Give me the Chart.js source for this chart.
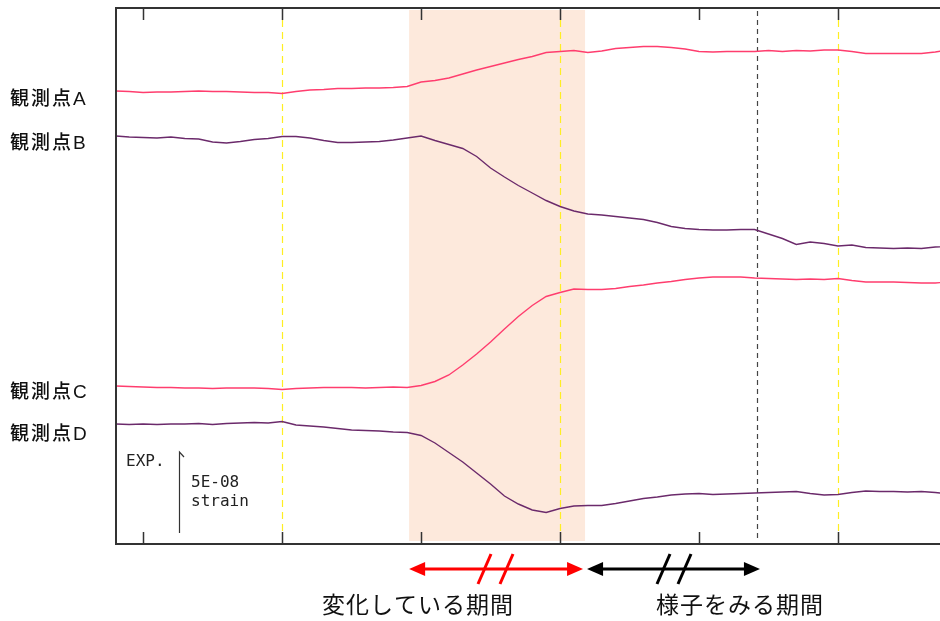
<!DOCTYPE html>
<html>
<head>
<meta charset="utf-8">
<script src="https://cdn.jsdelivr.net/npm/chart.js@4"></script>
<style>
  html, body { margin: 0; padding: 0; background: #fff; }
  #wrap { width: 940px; height: 621px; }
</style>
</head>
<body>
<div id="wrap"><canvas id="strainChart" width="940" height="621"></canvas></div>
<script>
// time axis, one unit per tick interval
const times = [-0.2, -0.1, 0, 0.1, 0.2, 0.3, 0.4, 0.5, 0.6, 0.7, 0.8, 0.9,
  1.0, 1.1, 1.2, 1.3, 1.4, 1.5, 1.6, 1.7, 1.8, 1.9,
  2.0, 2.1, 2.2, 2.3, 2.4, 2.5, 2.6, 2.7, 2.8, 2.9,
  3.0, 3.1, 3.2, 3.3, 3.4, 3.5, 3.6, 3.7, 3.8, 3.9,
  4.0, 4.1, 4.2, 4.3, 4.4, 4.5, 4.6, 4.7, 4.8, 4.9,
  5.0, 5.1, 5.2, 5.3, 5.4, 5.5, 5.6, 5.7, 5.8];

// strain traces (display offset units, up = expansion)
const pointA = [453, 452.5, 451.5, 452, 452, 452.5, 453, 452.5, 452.5, 452, 451.5, 451.5,
  450.5, 452.5, 454, 454.5, 455.5, 455.5, 456, 456, 456.5, 457.5,
  462, 463.5, 466, 470, 474, 477.5, 481, 484.5, 487.5, 491.5,
  492.5, 493.5, 491.5, 493, 495.5, 496.5, 497.5, 497.5, 496.5, 495,
  492.5, 492, 492.5, 492.5, 492.5, 493.5, 492.5, 493.5, 493, 494,
  494, 492.5, 490.5, 490.5, 490.5, 490.5, 490.5, 492, 494];
const pointB = [408, 407, 406.5, 406, 407, 405.5, 405, 402, 401, 402.5, 404.5, 405.5,
  407.5, 407.5, 406, 403.5, 401.5, 401.5, 402, 402.5, 404, 406,
  408, 403.5, 399.5, 395.5, 387.5, 376, 367, 358.5, 351, 343.5,
  337.5, 333, 330, 329, 327.5, 326, 324.5, 321.5, 317.5, 315.5,
  314.5, 314, 314, 314.5, 314.5, 310, 305.5, 299.5, 302, 300.5,
  298, 299, 296.5, 296, 295.5, 296, 295.5, 297, 297.5];
const pointC = [158, 157.5, 157, 156.5, 156.5, 156, 156, 155.5, 156, 156, 156, 155.5,
  154.5, 155.5, 156, 156.5, 156.5, 156.5, 156, 156.5, 157, 156.5,
  158.5, 162.5, 169, 179, 190, 202, 215, 227.5, 238.5, 247.5,
  251.5, 255, 254.5, 254.5, 255.5, 257.5, 259, 261, 262.5, 264.5,
  266, 267, 267, 267, 266, 265.5, 265, 264.5, 265, 264.5,
  265.5, 263.5, 262, 262, 262, 261.5, 261, 261, 262];
const pointD = [120, 119.5, 120, 119.5, 120, 120, 120.5, 119.5, 120.5, 121, 121.5, 121,
  122.5, 119, 118, 117, 115.5, 114, 113.5, 113, 112, 111.5,
  108.5, 101, 91.5, 82, 71, 60, 48, 40, 34, 31.5,
  35.5, 38, 38.5, 38.5, 40.5, 43, 45.5, 47, 49, 50,
  50.5, 49.5, 50, 50.5, 51, 51.5, 52, 52.5, 50.5, 49,
  49.5, 51.5, 53, 52.5, 52.5, 52, 52.5, 51.5, 50];

const seriesNames = ['観測点A', '観測点B', '観測点C', '観測点D'];
const labelLevels = [444, 400, 151, 109];

const tickTimes = [0, 1, 2, 3, 4, 5];
const yellowTimes = [1, 3, 5];
const checkTime = 4.417;
const changeStart = 1.914, changeEnd = 3.18;

const PINK = '#ff3d6e';
const PURPLE = '#6b2a6b';

function toXY(ys) {
  return times.map((t, i) => ({ x: t, y: ys[i] }));
}

const overlay = {
  id: 'overlay',
  beforeDatasetsDraw(chart) {
    const { ctx, chartArea: a, scales: { x } } = chart;
    ctx.save();
    // period being changed
    ctx.fillStyle = '#fde9dc';
    const x0 = x.getPixelForValue(changeStart), x1 = x.getPixelForValue(changeEnd);
    ctx.fillRect(x0, a.top + 2, x1 - x0, a.bottom - a.top - 5);

    ctx.lineWidth = 1.2;
    ctx.strokeStyle = '#ffee22';
    ctx.setLineDash([7, 5]);
    yellowTimes.forEach(t => {
      const px = Math.round(x.getPixelForValue(t)) + 0.5;
      ctx.beginPath();
      ctx.moveTo(px, a.top + 12);
      ctx.lineTo(px, a.bottom - 12);
      ctx.stroke();
    });
    ctx.strokeStyle = '#444';
    ctx.setLineDash([5, 4]);
    const cx = Math.round(x.getPixelForValue(checkTime)) + 0.5;
    ctx.beginPath();
    ctx.moveTo(cx, a.top + 3);
    ctx.lineTo(cx, a.bottom - 3);
    ctx.stroke();
    ctx.restore();
  },
  afterDraw(chart) {
    const { ctx, chartArea: a, scales: { x, y } } = chart;
    ctx.save();
    // frame
    ctx.strokeStyle = '#333';
    ctx.lineWidth = 2;
    ctx.beginPath();
    ctx.moveTo(a.right, a.top);
    ctx.lineTo(a.left, a.top);
    ctx.lineTo(a.left, a.bottom);
    ctx.lineTo(a.right, a.bottom);
    ctx.stroke();
    ctx.lineWidth = 1.5;
    tickTimes.forEach(t => {
      const px = Math.round(x.getPixelForValue(t)) + 0.5;
      ctx.beginPath();
      ctx.moveTo(px, a.top);
      ctx.lineTo(px, a.top + 12);
      ctx.moveTo(px, a.bottom);
      ctx.lineTo(px, a.bottom - 12);
      ctx.stroke();
    });

    // scale bar
    ctx.fillStyle = '#222';
    ctx.font = '16px "DejaVu Sans Mono", monospace';
    ctx.textBaseline = 'middle';
    ctx.fillText('EXP.', a.left + 10, a.bottom - 82);
    ctx.fillText('5E-08', a.left + 75, a.bottom - 61);
    ctx.fillText('strain', a.left + 75, a.bottom - 42);
    ctx.lineWidth = 1.2;
    ctx.beginPath();
    ctx.moveTo(a.left + 63.5, a.bottom - 11);
    ctx.lineTo(a.left + 63.5, a.bottom - 92);
    ctx.lineTo(a.left + 68, a.bottom - 87);
    ctx.stroke();

    // series names
    ctx.fillStyle = '#111';
    ctx.font = '500 19px "Liberation Sans", "Noto Sans CJK JP", sans-serif';
    ctx.letterSpacing = '2px';
    ctx.textAlign = 'left';
    seriesNames.forEach((n, i) => {
      ctx.fillText(n, 10, y.getPixelForValue(labelLevels[i]));
    });

    // period arrows
    const arrowY = a.bottom + 25;
    function arrow(xa, xb, color) {
      ctx.strokeStyle = color;
      ctx.fillStyle = color;
      ctx.lineWidth = 3;
      ctx.beginPath();
      ctx.moveTo(xa + 10, arrowY);
      ctx.lineTo(xb - 10, arrowY);
      ctx.stroke();
      [[xa, 1], [xb, -1]].forEach(([p, d]) => {
        ctx.beginPath();
        ctx.moveTo(p, arrowY);
        ctx.lineTo(p + d * 16, arrowY - 7);
        ctx.lineTo(p + d * 16, arrowY + 7);
        ctx.closePath();
        ctx.fill();
      });
    }
    function slashes(xs, color) {
      ctx.strokeStyle = color;
      ctx.lineWidth = 3;
      xs.forEach(sx => {
        ctx.beginPath();
        ctx.moveTo(sx, arrowY + 15);
        ctx.lineTo(sx + 13, arrowY - 15);
        ctx.stroke();
      });
    }
    const rA = x.getPixelForValue(changeStart), rB = x.getPixelForValue(changeEnd) - 2;
    arrow(rA, rB, '#ff0000');
    slashes([478, 500], '#ff0000');
    arrow(x.getPixelForValue(changeEnd) + 2, x.getPixelForValue(checkTime) + 3, '#000');
    slashes([657, 678], '#000');

    ctx.fillStyle = '#111';
    ctx.font = '23px "Noto Sans CJK JP", sans-serif';
    ctx.letterSpacing = '1px';
    ctx.textAlign = 'center';
    ctx.fillText('変化している期間', 418, a.bottom + 60);
    ctx.fillText('様子をみる期間', 740, a.bottom + 60);
    ctx.restore();
  }
};

const strainChart = new Chart(document.getElementById('strainChart').getContext('2d'), {
  type: 'line',
  data: {
    datasets: [
      { label: seriesNames[0], data: toXY(pointA), borderColor: PINK },
      { label: seriesNames[1], data: toXY(pointB), borderColor: PURPLE },
      { label: seriesNames[2], data: toXY(pointC), borderColor: PINK },
      { label: seriesNames[3], data: toXY(pointD), borderColor: PURPLE }
    ]
  },
  options: {
    responsive: false,
    animation: false,
    devicePixelRatio: 1,
    layout: { padding: { left: 116, top: 8, right: 0, bottom: 77 } },
    elements: {
      point: { radius: 0 },
      line: { borderWidth: 1.4, tension: 0, fill: false }
    },
    plugins: { legend: { display: false }, tooltip: { enabled: false } },
    scales: {
      x: { type: 'linear', min: -0.195, max: 5.734, display: false },
      y: { min: 0, max: 536, display: false }
    }
  },
  plugins: [overlay]
});
</script>
</body>
</html>
